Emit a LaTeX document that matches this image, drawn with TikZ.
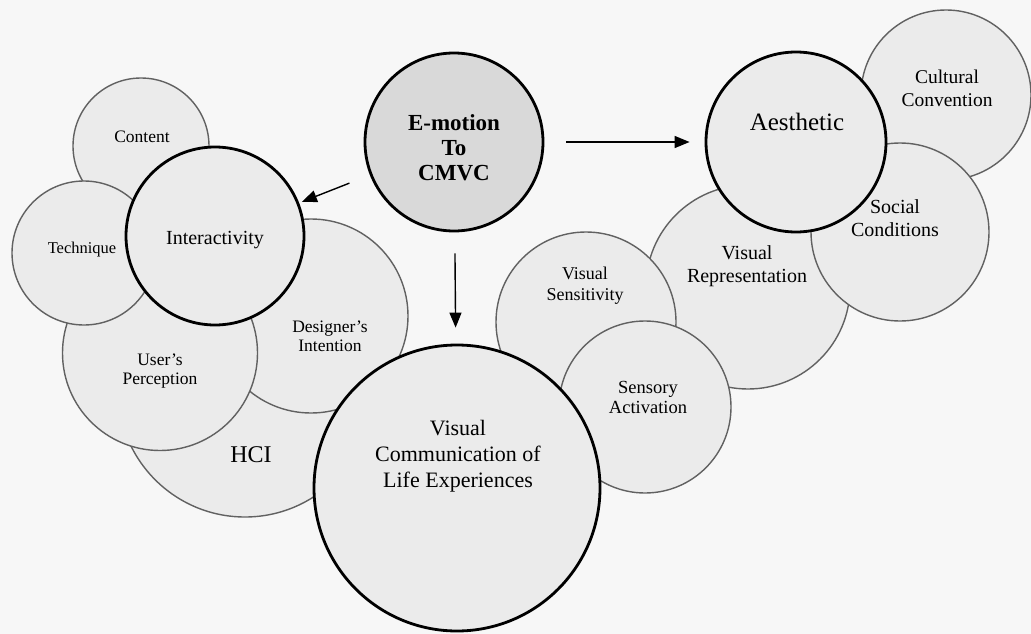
\documentclass[tikz,border=0pt]{standalone}
\usepackage{fontspec}
\setmainfont{Liberation Serif}
\usetikzlibrary{arrows.meta}

\begin{document}
\begin{tikzpicture}[x=1pt,y=-1pt,
  ring/.style={circle,draw=black!62,line width=1.4pt,fill=black!8,inner sep=0pt,minimum size=#1pt},
  core/.style={ring=#1,draw=black,line width=2.8pt},
  sm/.style={align=center,font=\fontsize{17.5}{19}\selectfont},
  md/.style={align=center,font=\fontsize{20}{23}\selectfont},
  lg/.style={align=center,font=\fontsize{23}{26}\selectfont},
  arr/.style={-{Triangle[length=15pt,width=12pt]},line width=1.4pt}]
% page
\fill[black!3] (0,0) rectangle (1031,634);
\useasboundingbox (0,0) rectangle (1031,634);

% left cluster, back to front
\node[ring=254] (hci) at (245,390) {};
\node[ring=194] (designer) at (311,316) {};
\node[ring=195] (users) at (160,353) {};
\node[ring=136] (content) at (141,146) {};
\node[ring=144] (technique) at (84,253) {};
\node[core=178] (inter) at (215,236) {};

% right cluster
\node[ring=170] (cultural) at (946,95) {};
\node[ring=204] (visrep) at (748,287) {};
\node[ring=178] (social) at (900,232) {};
\node[ring=180] (vissens) at (586,322) {};
\node[ring=172] (sensory) at (645,407) {};
\node[core=180] (aes) at (796,142) {};

% centre
\node[core=286] (vc) at (457,488) {};
\node[core=178,fill=black!15] (emo) at (454,142) {};

% labels
\node[sm] (t-content) at (142,137) {Content};
\node[sm,font=\fontsize{16.5}{19}\selectfont] (t-technique) at (82,250) {Technique};
\node[md] (t-inter) at (215,240) {Interactivity};
\node[sm] (t-users) at (160,371) {User's\\Perception};
\node[sm] (t-designer) at (330,336) {Designer's\\Intention};
\node[lg,font=\fontsize{24}{26}\selectfont] (t-hci) at (251,455) {HCI};
\node[lg,font=\fontsize{23}{25}\bfseries] (t-emo) at (454,148) {E-motion\\To\\CMVC};
\node[lg,font=\fontsize{25}{28}\selectfont] (t-aes) at (797,122) {Aesthetic};
\node[md,font=\fontsize{19.5}{23}\selectfont] (t-cultural) at (947,88) {Cultural\\Convention};
\node[md] (t-social) at (895,218) {Social\\Conditions};
\node[md] (t-visrep) at (747,266) {Visual\\Representation};
\node[md,font=\fontsize{18}{21}\selectfont] (t-vissens) at (585,286) {Visual\\Sensitivity};
\node[md,font=\fontsize{18.5}{20}\selectfont] (t-sensory) at (648,397) {Sensory\\Activation};
\node[lg,font=\fontsize{22}{26}\selectfont] (t-vc) at (458,456) {Visual\\Communication of\\Life Experiences};

% arrows out of the core
\draw[arr,shorten <=22pt,shorten >=3pt] (emo) -- (inter);
\draw[arr,shorten <=22pt,shorten >=15pt] (emo) -- (aes);
\draw[arr,shorten <=21pt,shorten >=16pt] (emo) -- (vc);
\end{tikzpicture}
\end{document}
